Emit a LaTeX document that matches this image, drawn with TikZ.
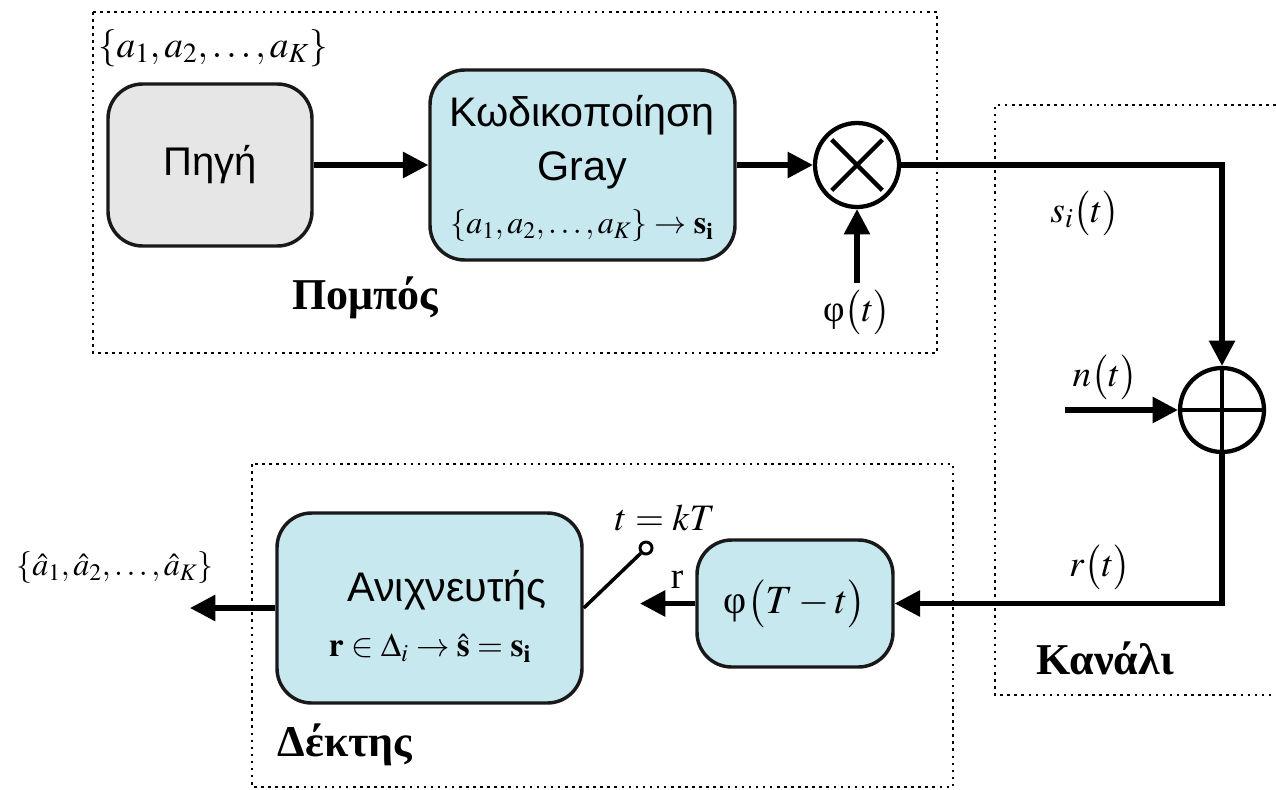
\documentclass[tikz,border=0pt]{standalone}
\usepackage{mathptmx}
\usepackage{fontspec}
\setmainfont{Liberation Serif}
\setsansfont{Liberation Sans}
\usetikzlibrary{arrows.meta,calc}
\definecolor{boxblue}{HTML}{C8E8EF}
\definecolor{boxgray}{HTML}{E6E6E6}
\tikzset{
  blk/.style={draw=black!90, line width=2.6pt, rounded corners=26pt, align=center, inner sep=0pt, font=\sffamily\fontsize{30}{36}\selectfont},
  opcirc/.style={circle, draw=black, line width=3.2pt, minimum size=63pt, inner sep=0pt},
  conn/.style={line width=3.8pt, -{Triangle[length=19pt,width=19pt]}},
  group/.style={line width=1.9pt, dash pattern=on 1.9pt off 3.4pt},
  lbl/.style={inner sep=0pt, font=\fontsize{28}{32}\selectfont},
  title/.style={inner sep=0pt, font=\bfseries\fontsize{33}{38}\selectfont},
}
\begin{document}
\begin{tikzpicture}[x=0.75pt, y=-0.75pt]
\useasboundingbox (0,0) rectangle (1276,789);
% group frames
\draw[group] (93,12) rectangle (937,353);
\draw[group] (1276,105) -- (995,105) -- (995,695) -- (1276,695);
\draw[group] (252,464) rectangle (953,787);
% blocks
\node[blk, fill=boxgray, minimum width=153pt, minimum height=121.5pt] (src) at (210,165) {Πηγή};
\node[blk, fill=boxblue, minimum width=228.75pt, minimum height=142.5pt] (enc) at (582.5,165) {};
\node[inner sep=0pt, font=\sffamily\fontsize{31}{36}\selectfont] (encA) at (582,115) {Κωδικοποίηση};
\node[inner sep=0pt, font=\sffamily\fontsize{31}{36}\selectfont] (encB) at (582,170) {Gray};
\node[inner sep=0pt, font=\fontsize{24}{28}\selectfont] (encC) at (582,226) {$\{a_1,a_2,\ldots,a_K\}\rightarrow\mathbf{s}_{\mathbf{i}}$};
\node[opcirc] (mul) at (857,165) {};
\draw[line width=3.2pt] ($(mul)+(-19pt,-19pt)$) -- ($(mul)+(19pt,19pt)$);
\draw[line width=3.2pt] ($(mul)+(-19pt,19pt)$) -- ($(mul)+(19pt,-19pt)$);
\node[opcirc] (add) at (1222,410) {};
\draw[line width=3.2pt] (add.west) -- (add.east);
\draw[line width=3.2pt] (add.north) -- (add.south);
\node[blk, fill=boxblue, minimum width=147pt, minimum height=95.25pt, font=\fontsize{30}{36}\selectfont] (mf) at (795,603.5) {φ$\bigl(T-t\bigr)$};
\node[blk, fill=boxblue, minimum width=228.75pt, minimum height=142.5pt] (det) at (429.5,608) {};
\node[inner sep=0pt, font=\sffamily\fontsize{31}{36}\selectfont] (detA) at (447,590) {Ανιχνευτής};
\node[inner sep=0pt, font=\fontsize{25}{30}\selectfont] (detB) at (430,648) {$\mathbf{r}\in\Delta_i\rightarrow\hat{\mathbf{s}}=\mathbf{s}_{\mathbf{i}}$};
% coordinates
\coordinate (phiin) at (857,283);
\coordinate (corner1) at (1222,165);
\coordinate (nin) at (1065,410);
\coordinate (corner2) at (1222,603.5);
\coordinate (rout) at (640,603.5);
\coordinate (out) at (190,608);
\node[circle, draw, line width=2.2pt, minimum size=9pt, inner sep=0pt] (sw) at (646,548) {};
% connectors
\draw[conn] (src.east) -- (enc.west);
\draw[conn] (enc.east) -- (mul.west);
\draw[conn] (phiin) -- (mul.south);
\draw[conn] (mul.east) -- (corner1) -- (add.north);
\draw[conn] (nin) -- (add.west);
\draw[conn] (add.south) -- (corner2) -- (mf.east);
\draw[conn] (mf.west) -- (rout);
\draw[line width=2.6pt] (det.east) -- (sw.south west);
\draw[conn] (det.west) -- (out);
% labels
\node[lbl] (setin) at (213,48) {$\{a_1,a_2,\ldots,a_K\}$};
\node[lbl] (phit) at (857,312) {φ$\bigl(t\bigr)$};
\node[lbl] (sit) at (1085,213) {$s_i\bigl(t\bigr)$};
\node[lbl] (nt) at (1105,377) {$n\bigl(t\bigr)$};
\node[lbl] (rt) at (1100,567) {$r\bigl(t\bigr)$};
\node[lbl] (rlab) at (677,580) {r};
\node[lbl] (tk) at (665,518) {$t=kT$};
\node[inner sep=0pt, font=\fontsize{24}{28}\selectfont] (setout) at (115,568) {$\{\hat{a}_1,\hat{a}_2,\ldots,\hat{a}_K\}$};
\node[title] (tx) at (365,298) {Πομπός};
\node[title] (ch) at (1105,658) {Κανάλι};
\node[title] (rx) at (345,745) {Δέκτης};
\end{tikzpicture}
\end{document}
